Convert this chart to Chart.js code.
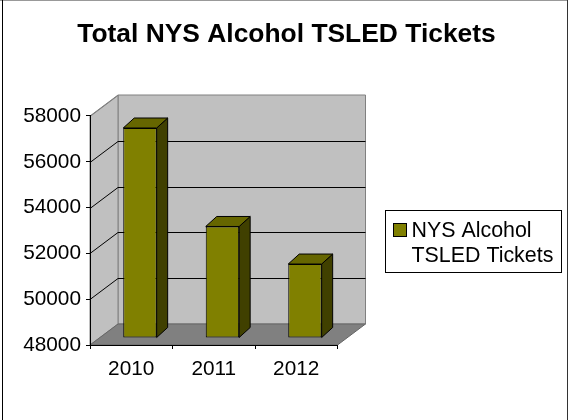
<!DOCTYPE html>
<html><head><meta charset="utf-8">
<style>html,body{margin:0;padding:0;background:#fff}canvas{display:block}</style>
<script src="https://cdn.jsdelivr.net/npm/chart.js@4"></script></head>
<body><div style="width:568px;height:420px"><canvas id="c" width="568" height="420"></canvas></div>
<script>
const chartTitle = "Total NYS Alcohol TSLED Tickets";
const categories = ["2010", "2011", "2012"];
const seriesName = "NYS Alcohol TSLED Tickets";
const legendLines = ["NYS Alcohol", "TSLED Tickets"];
const seriesValues = [57170, 52870, 51230];
const yMin = 48000, yMax = 58000, yStep = 2000;

const FONT = '"Liberation Sans", Arial, sans-serif';
const WALL = "#C0C0C0", FLOOR = "#808080", EDGE = "#808080";
const FRONT = "#808000", TOP = "#666600", SIDE = "#404000";
const DEPTH = {x: 28, y: -21};
const BAR = {x: 8.7, y: -7, dx: 11, dy: -10};

function poly(ctx, pts, fill, stroke, lw) {
  ctx.beginPath();
  pts.forEach((p, i) => i ? ctx.lineTo(p[0], p[1]) : ctx.moveTo(p[0], p[1]));
  ctx.closePath();
  if (fill) { ctx.fillStyle = fill; ctx.fill(); }
  if (stroke) { ctx.strokeStyle = stroke; ctx.lineWidth = lw || 1; ctx.stroke(); }
}

const scene = {
  id: "scene",
  beforeDraw(chart) {
    const ctx = chart.ctx, a = chart.chartArea, ys = chart.scales.y;
    const d = DEPTH;
    ctx.save();
    ctx.fillStyle = "#fff"; ctx.fillRect(0, 0, chart.width, chart.height);
    ctx.fillStyle = "#999"; ctx.fillRect(0, 0, chart.width, 1);
    ctx.fillStyle = "#000"; ctx.fillRect(2, 0, 1, chart.height);
    ctx.fillStyle = "#333"; ctx.fillRect(chart.width - 1, 0, 1, chart.height);
    poly(ctx, [[a.left + d.x, a.top + d.y], [a.right + d.x, a.top + d.y], [a.right + d.x, a.bottom + d.y], [a.left + d.x, a.bottom + d.y]], WALL, EDGE);
    poly(ctx, [[a.left, a.top], [a.left + d.x, a.top + d.y], [a.left + d.x, a.bottom + d.y], [a.left, a.bottom]], WALL, EDGE);
    poly(ctx, [[a.left, a.bottom], [a.left + d.x, a.bottom + d.y], [a.right + d.x, a.bottom + d.y], [a.right, a.bottom]], FLOOR, "#666");
    ys.ticks.forEach(t => {
      if (t.value === yMin) return;
      const y = Math.round(ys.getPixelForValue(t.value)) + 0.5;
      ctx.strokeStyle = t.value === yMax ? EDGE : "#000";
      ctx.beginPath();
      ctx.moveTo(a.left, y);
      ctx.lineTo(a.left + d.x, y + d.y);
      if (t.value !== yMax) ctx.lineTo(a.right + d.x, y + d.y);
      ctx.stroke();
    });
    ctx.restore();
  },
  beforeDatasetsDraw(chart) {
    const ctx = chart.ctx;
    ctx.save();
    ctx.translate(BAR.x, BAR.y);
    chart.getDatasetMeta(0).data.forEach(b => {
      const p = b.getProps(["x", "y", "base", "width"], true);
      const l = p.x - p.width / 2, r = p.x + p.width / 2, t = p.y, bt = p.base;
      poly(ctx, [[r, t], [r + BAR.dx, t + BAR.dy], [r + BAR.dx, bt + BAR.dy], [r, bt]], SIDE, "#000");
      poly(ctx, [[l, t], [l + BAR.dx, t + BAR.dy], [r + BAR.dx, t + BAR.dy], [r, t]], TOP, "#000");
    });
  },
  afterDatasetsDraw(chart) {
    const ctx = chart.ctx;
    ctx.restore();
    ctx.save();
    ctx.strokeStyle = "#000"; ctx.lineWidth = 1;
    ctx.strokeRect(385.5, 210.5, 176, 62);
    ctx.fillStyle = FRONT; ctx.fillRect(393.5, 223.5, 13, 13);
    ctx.strokeRect(393.5, 223.5, 13, 13);
    ctx.fillStyle = "#000"; ctx.font = "21.4px " + FONT;
    ctx.textBaseline = "middle"; ctx.textAlign = "left";
    ctx.fillText(legendLines[0], 411.5, 231);
    ctx.fillText(legendLines[1], 411.5, 256);
    ctx.restore();
  }
};

new Chart(document.getElementById("c"), {
  type: "bar",
  data: { labels: categories, datasets: [{
    label: seriesName, data: seriesValues, base: yMin,
    backgroundColor: FRONT, borderColor: "#000", borderWidth: 1, borderSkipped: false,
    categoryPercentage: 1, barPercentage: 0.405
  }]},
  options: {
    responsive: false, animation: false,
    layout: { padding: { left: 5, right: 0, top: 0, bottom: 0 } },
    plugins: {
      legend: { display: false }, tooltip: { enabled: false },
      title: { display: true, text: chartTitle, color: "#000",
        font: { family: FONT, size: 26.4, weight: "bold", lineHeight: 1.2 },
        padding: { top: 19, bottom: 116 - 19 - 31.68 } }
    },
    scales: {
      x: { grid: { display: true, drawOnChartArea: false, drawTicks: true, tickLength: 4, color: "#000" },
        border: { display: true, color: "#000", width: 1 },
        ticks: { color: "#000", font: { family: FONT, size: 20.8 }, padding: 8, maxRotation: 0 },
        afterFit(s) { s.height = 75; } },
      y: { min: yMin, max: yMax,
        grid: { display: true, drawOnChartArea: false, drawTicks: true, tickLength: 4, color: "#000" },
        border: { display: true, color: "#000", width: 1 },
        ticks: { stepSize: yStep, color: "#000", font: { family: FONT, size: 20.8 }, padding: 5, callback: v => String(v) },
        afterFit(s) { s.width = 85; } },
      spacer: { position: "right", display: true, grid: { display: false }, border: { display: false },
        ticks: { display: false }, afterFit(s) { s.width = 230.5; } }
    }
  },
  plugins: [scene]
});
</script></body></html>
